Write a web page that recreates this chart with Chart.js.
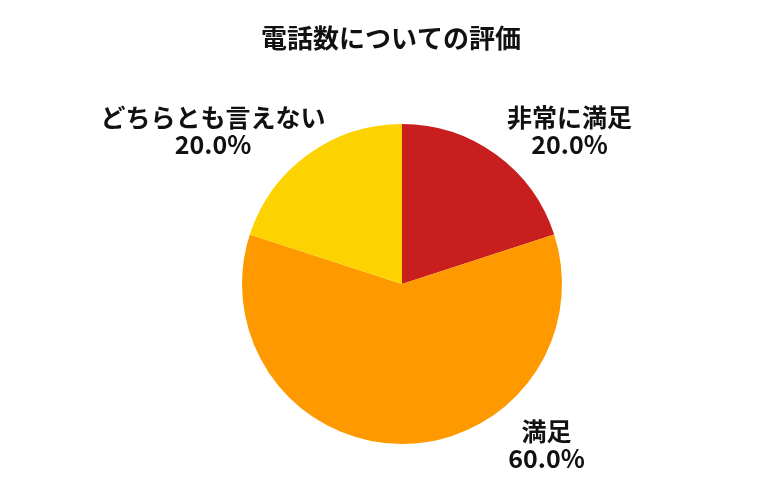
<!DOCTYPE html>
<html><head><meta charset="utf-8">
<script src="https://cdn.jsdelivr.net/npm/chart.js@4"></script>
<style>html,body{margin:0;padding:0;background:#fff}#w{width:780px;height:500px}</style>
</head><body><div id="w"><canvas id="c"></canvas></div>
<script>
const categories = ["非常に満足", "満足", "どちらとも言えない"];
const values = [20.0, 60.0, 20.0];
const colors = ["#C81E1E", "#FE9A00", "#FCD300"];
const titleText = "電話数についての評価";
const labelAngles = [47.5, 138, -51];
const labelDist = [1.42, 1.35, 1.52];
const FONT = "'Noto Sans CJK JP', 'Noto Sans', sans-serif";

const labelPlugin = {
  id: 'lbl',
  afterDraw(chart) {
    const ctx = chart.ctx;
    ctx.save();
    ctx.fillStyle = '#111';
    ctx.textAlign = 'center';
    ctx.textBaseline = 'middle';
    ctx.font = "bold 26px " + FONT;
    ctx.fillText(titleText, chart.width / 2 + 1, 38);
    const arc = chart.getDatasetMeta(0).data[0];
    const cx = arc.x, cy = arc.y, R = arc.outerRadius;
    const total = values.reduce((a, b) => a + b, 0);
    ctx.font = "bold 25px " + FONT;
    categories.forEach((c, i) => {
      const a = labelAngles[i] * Math.PI / 180;
      const x = cx + R * labelDist[i] * Math.sin(a);
      const y = cy - R * labelDist[i] * Math.cos(a);
      ctx.fillText(c, x, y - 13);
      ctx.fillText((values[i] / total * 100).toFixed(1) + '%', x, y + 14);
    });
    ctx.restore();
  }
};

new Chart(document.getElementById('c'), {
  type: 'pie',
  data: { labels: categories, datasets: [{ data: values, backgroundColor: colors, borderWidth: 0 }] },
  options: {
    responsive: true, maintainAspectRatio: false, animation: false,
    layout: { padding: { top: 124, bottom: 56, left: 24, right: 0 } },
    plugins: { legend: { display: false }, tooltip: { enabled: false }, title: { display: false } }
  },
  plugins: [labelPlugin]
});
</script></body></html>
